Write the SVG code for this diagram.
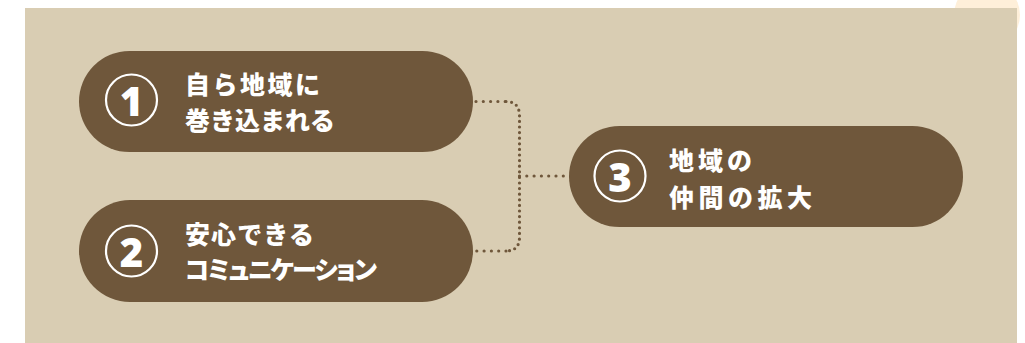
<svg xmlns="http://www.w3.org/2000/svg" width="1025" height="343" viewBox="0 0 1025 343">
<defs>
<style>
.pill{fill:#6F573B}
.ring{fill:none;stroke:#FFFFFF;stroke-width:2.2}
.num{fill:#FFFFFF;font-family:"Noto Sans","Liberation Sans",sans-serif;font-weight:900;font-size:40px;text-anchor:middle;dominant-baseline:central}
.lbl{fill:#FFFFFF;font-family:"Noto Sans CJK JP","Noto Sans",sans-serif;font-weight:900;font-size:25px;dominant-baseline:central}
.palt{font-feature-settings:"palt" 1}
.dot{fill:none;stroke:#6F573B;stroke-width:3.2;stroke-linecap:round}
.dh{stroke-dasharray:0 7.3}
.dv{stroke-dasharray:0 5.6}
</style>
</defs>
<circle cx="987" cy="15" r="33" fill="#FEEFD9"/>
<rect x="25" y="8" width="992" height="340" fill="#D9CDB3"/>
<g id="connectors">
<path class="dot dh" d="M476,101.5 H506"/>
<path class="dot dv" d="M506,101.5 Q519.5,101.5 519.5,116 V237 Q519.5,251 506,251"/>
<path class="dot dh" d="M506,251 H476"/>
<path class="dot dh" d="M519.5,176 H566"/>
</g>
<g id="node1">
<rect class="pill" x="79" y="51" width="394" height="101" rx="50.5"/>
<circle class="ring" cx="131.5" cy="100" r="25.5"/>
<text class="num" x="131.5" y="100">1</text>
<text class="lbl" x="185" y="83" textLength="135" lengthAdjust="spacing">自ら地域に</text>
<text class="lbl" x="185" y="119" textLength="150" lengthAdjust="spacing">巻き込まれる</text>
</g>
<g id="node2">
<rect class="pill" x="79" y="200" width="394" height="102" rx="51"/>
<circle class="ring" cx="131.5" cy="251" r="25.5"/>
<text class="num" x="131.5" y="251">2</text>
<text class="lbl" x="185" y="233" textLength="129" lengthAdjust="spacing">安心できる</text>
<text class="lbl palt" x="185" y="268" textLength="192" lengthAdjust="spacing">コミュニケーション</text>
</g>
<g id="node3">
<rect class="pill" x="569" y="126" width="394" height="101" rx="50.5"/>
<circle class="ring" cx="620" cy="176" r="25.5"/>
<text class="num" x="620" y="176">3</text>
<text class="lbl" x="669" y="159" textLength="83" lengthAdjust="spacing">地域の</text>
<text class="lbl" x="669" y="196" textLength="143" lengthAdjust="spacing">仲間の拡大</text>
</g>
</svg>
